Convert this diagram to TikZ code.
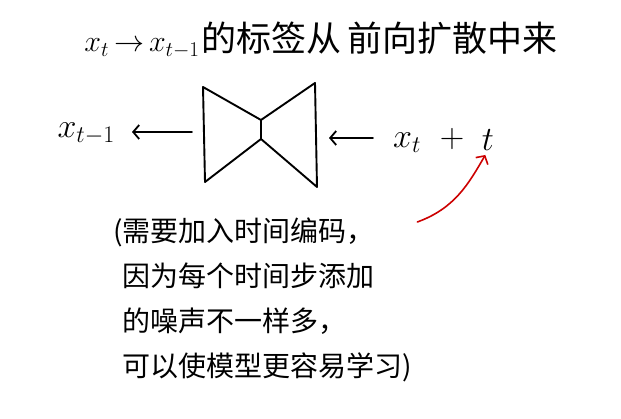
\RequirePackage{fix-cm}
\documentclass[tikz,border=0pt]{standalone}
\usepackage{fontspec}
\newfontfamily\cjk{Noto Sans CJK SC}
\usetikzlibrary{positioning,arrows.meta}

\begin{document}
\begin{tikzpicture}[x=1pt, y=1pt,
        pen/.style={line width=1.9pt, black, line cap=round, line join=round},
        flow/.style={pen, -{Straight Barb[length=6pt, width=14pt, line width=1.8pt]}},
        redpen/.style={line width=1.6pt, red!80!black, line cap=round, -{Straight Barb[length=6pt, width=14pt, line width=1.6pt]}},
        title/.style={font=\cjk\fontsize{35}{40}\selectfont, inner sep=0pt},
        mathlbl/.style={font=\fontsize{34}{38}\selectfont, inner sep=0pt},
        note/.style={font=\cjk\fontsize{28}{45}\selectfont, align=left, inner sep=0pt, anchor=north west}
    ]
    \useasboundingbox (0,0) rectangle (621,419);

    % Title
    \node[title] (title) at (321,379) {{\fontsize{30}{34}\selectfont$x_t\,{\to}\,x_{t-1}$}\hspace{2pt}的标签从\hspace{6pt}前向扩散中来};

    % Network (bowtie)
    \coordinate (lt) at (203,332);
    \coordinate (lb) at (205,237);
    \coordinate (nt) at (261,299);
    \coordinate (nb) at (261,280);
    \coordinate (rt) at (315,336);
    \coordinate (rb) at (317,232);
    \draw[pen] (lt) -- (nt) -- (rt) -- (rb) -- (nb) -- (lb) -- cycle;
    \draw[pen] (nt) -- (nb);
    \coordinate (netout) at (192,287);
    \coordinate (netin) at (329,281);

    % Output and input
    \node[mathlbl, anchor=east] (xprev) at (115,285) {$x_{t-1}$};
    \node[mathlbl, anchor=west] (xin) at (393,279) {$x_t\;\;+$};
    \node[mathlbl, right=17pt of xin] (tstep) {$t$};
    \draw[flow, shorten >=17pt] (netout) -- (netout -| xprev.east);
    \draw[flow, shorten <=20pt] (xin.west |- netin) -- (netin);

    % Note
    \node[note] (note) at (113,201) {(需要加入时间编码，\\
        \hphantom{(}因为每个时间步添加\\
        \hphantom{(}的噪声不一样多，\\
        \hphantom{(}可以使模型更容易学习)};
    \draw[redpen, shorten >=5pt] ([xshift=5pt, yshift=-4pt]note.north east) to[out=20, in=-120] (tstep.south);
\end{tikzpicture}
\end{document}
